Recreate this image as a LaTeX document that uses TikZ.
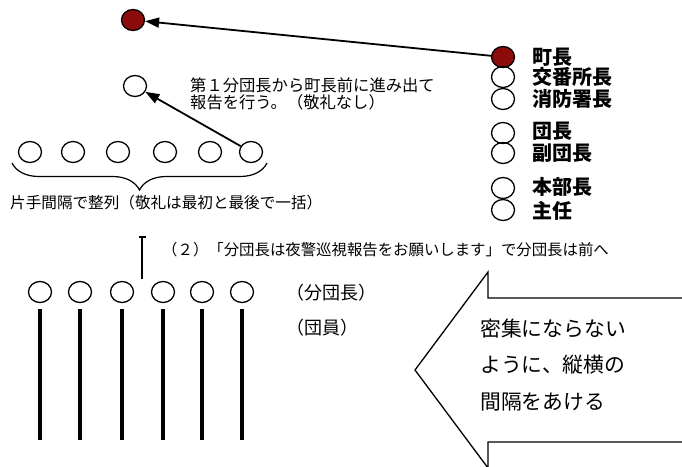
\documentclass[tikz,border=0pt]{standalone}
\usepackage{fontspec}
\setmainfont{Noto Sans CJK JP}
\usetikzlibrary{arrows.meta,shapes.geometric,decorations.pathreplacing}
\definecolor{maroon}{RGB}{140,12,12}
\begin{document}
\begin{tikzpicture}[x=1pt,y=-1pt,
  pers/.style={ellipse,draw,line width=1.3pt,minimum width=23pt,minimum height=21pt,inner sep=0pt},
  redp/.style={pers,fill=maroon},
  arr/.style={line width=1.8pt,-{Triangle[length=14pt,width=10pt]}},
  member/.style={line width=3.5pt},
  lbl/.style={anchor=west,inner sep=0pt},
  rank/.style={lbl,font=\fontsize{20}{20}\selectfont\bfseries},
  txt/.style={lbl,align=left}]
\clip (0,0) rectangle (682,466);
% top persons
\node[redp] (topred) at (133,20) {};
\node[pers] (top2) at (135,86) {};
\node[txt,font=\fontsize{16.3}{16.5}\selectfont] (note1) at (190,94) {第１分団長から町長前に進み出て\\報告を行う。（敬礼なし）};
% right column
\node[redp] (mayor) at (503,57) {};
\node[pers] (k1) at (503,77) {};
\node[pers] (k2) at (503,99) {};
\node[pers] (k3) at (503,133) {};
\node[pers] (k4) at (503,153) {};
\node[pers] (k5) at (503,188) {};
\node[pers] (k6) at (503,210) {};
\node[rank] (tm) at (532,57) {町長};
\node[rank] (t1) at (532,77) {交番所長};
\node[rank] (t2) at (532,99) {消防署長};
\node[rank] (t3) at (532,131) {団長};
\node[rank] (t4) at (532,153) {副団長};
\node[rank] (t5) at (532,187) {本部長};
\node[rank] (t6) at (532,211) {主任};
% middle row
\foreach \i/\x in {1/30,2/73,3/118,4/165,5/210,6/251}
  \node[pers] (r\i) at (\x,152) {};
\draw[line width=1.2pt,decorate,decoration={brace,amplitude=27pt}] (267,163) -- (12,163);
\node[lbl,font=\fontsize{15.6}{15.6}\selectfont] (brtxt) at (10,203) {片手間隔で整列（敬礼は最初と最後で一括）};
% arrows
\draw[arr] (mayor) -- (topred);
\draw[arr] (r6) -- (top2);
% T line
\coordinate (tb) at (142,279);
\coordinate (tt) at (142,236);
\draw[line width=1.5pt,-{Bar[width=7pt]}] (tb) -- (tt);
\node[lbl,font=\fontsize{15.4}{15.4}\selectfont] (step2) at (162,250) {（２）「分団長は夜警巡視報告をお願いします」で分団長は前へ};
% bottom row
\foreach \i/\x in {1/40,2/80,3/122,4/163,5/202,6/242}{
  \node[pers] (b\i) at (\x,292) {};
  \coordinate (m\i) at (\x,309);
  \coordinate (n\i) at (\x,440);
  \draw[member] (m\i) -- (n\i);
}
\node[lbl,font=\fontsize{18}{18}\selectfont] (lb1) at (286,293) {（分団長）};
\node[lbl,font=\fontsize{18}{18}\selectfont] (lb2) at (286,328) {（団員）};
% block arrow
\draw[line width=1.3pt,fill=white] (690,298) -- (488,298) -- (488,272) -- (415,370) -- (488,468) -- (488,442) -- (690,442);
\node[txt,font=\fontsize{20.8}{36.5}\selectfont] (adv) at (480,365) {密集にならない\\ように、縦横の\\間隔をあける};
\end{tikzpicture}
\end{document}
